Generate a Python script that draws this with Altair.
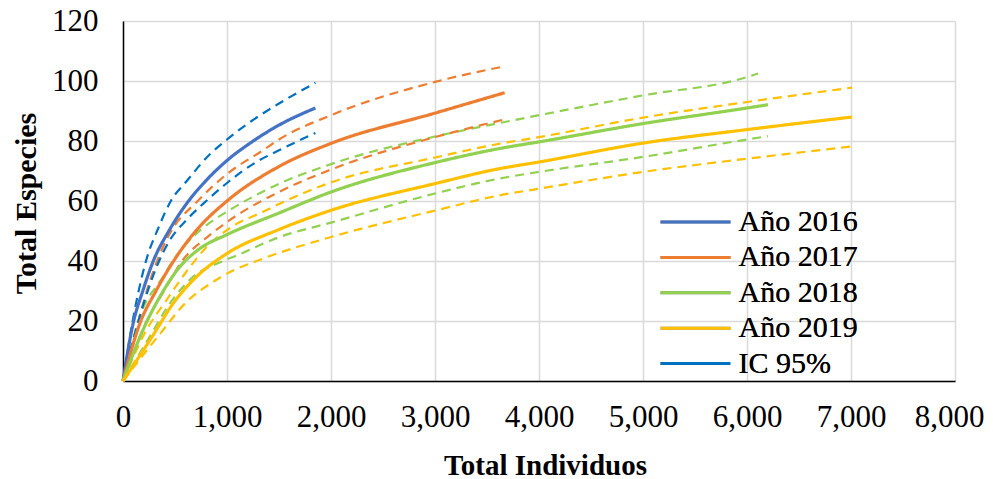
import altair as alt
import pandas as pd

# ---- data ----
series_names = ["Año 2016", "Año 2017", "Año 2018", "Año 2019"]
legend_names = ["Año 2016", "Año 2017", "Año 2018", "Año 2019", "IC 95%"]

x_2016 = [0, 96, 192, 288, 449, 609, 801, 1000, 1231, 1500, 1850]
y_2016 = [0, 19, 30.2, 39.7, 50.5, 59, 66.9, 73.5, 79.5, 85.3, 91]
x_2016_up = [0, 93, 221, 340, 460, 609, 833, 1000, 1250, 1500, 1850]
y_2016_up = [0, 20, 40, 51, 60, 66.5, 75.5, 80.5, 87, 92.5, 99.4]
x_2016_lo = [0, 148, 335, 449, 609, 800, 1000, 1282, 1500, 1850]
y_2016_lo = [0, 20, 39, 46.9, 53.6, 60, 66, 73, 76.9, 82.7]

x_2017 = [0, 160, 320, 481, 705, 1000, 1500, 2000, 3000, 3670]
y_2017 = [0, 19, 30.2, 39.7, 50.2, 60, 71.5, 79.2, 89.3, 96.1]
x_2017_up = [0, 148, 256, 334, 449, 718, 1000, 1346, 1500, 2000, 3000, 3670]
y_2017_up = [0, 20, 33, 40.5, 49.1, 60, 69, 76.9, 80.5, 88.6, 99.7, 104.9]
x_2017_lo = [0, 221, 417, 558, 833, 1000, 1500, 2000, 3000, 3670]
y_2017_lo = [0, 19.5, 31.3, 39.5, 48.6, 53, 63, 70.5, 81.3, 87.2]

x_2018 = [0, 192, 353, 545, 737, 1000, 1500, 2000, 3000, 3622, 4000, 5000, 6000, 6202]
y_2018 = [0, 17, 28, 38, 44.1, 48.8, 56, 63, 72.8, 77.5, 79.7, 85.8, 91, 92.1]
x_2018_up = [0, 160, 385, 478, 609, 801, 1026, 1506, 2000, 3000, 3622, 4000, 5000, 6000, 6106]
y_2018_up = [0, 21.3, 34.7, 40, 45.8, 51.9, 57, 65.8, 72.3, 81.5, 86, 88.6, 95.2, 101.3, 102.5]
x_2018_lo = [0, 256, 449, 673, 929, 1090, 1506, 2000, 3000, 3622, 4000, 5000, 6000, 6202]
y_2018_lo = [0, 14.7, 25.8, 34.7, 39.5, 41.8, 48, 52.8, 62.5, 67.5, 69.7, 74.7, 80.5, 81.6]

x_2019 = [0, 288, 481, 705, 1000, 1500, 2000, 3000, 3622, 4000, 5000, 6000, 7010]
y_2019 = [0, 15.2, 25.8, 34.7, 42.5, 50.5, 56.9, 65.8, 70.8, 73, 79.3, 83.8, 88]
x_2019_up = [0, 224, 417, 600, 800, 1042, 1346, 1506, 2000, 3000, 3622, 4000, 5000, 6000, 7010]
y_2019_up = [0, 16.9, 26.9, 36, 44.5, 51.3, 56.4, 59.1, 66.2, 74.5, 79.1, 81.3, 87.8, 93, 97.8]
x_2019_lo = [0, 369, 609, 865, 1000, 1346, 2000, 3000, 3622, 4000, 5000, 6000, 7010]
y_2019_lo = [0, 16.3, 26.3, 33, 35.8, 40.8, 48, 56.8, 61.9, 64.1, 69.7, 74.1, 78.2]

x_ticks = [0, 1000, 2000, 3000, 4000, 5000, 6000, 7000, 8000]
y_ticks = [0, 20, 40, 60, 80, 100, 120]

solid_colors = ["#4472C4", "#ED7D31", "#92D050", "#FFC000", "#0070C0"]
ci_colors = ["#0070C0", "#ED7D31", "#92D050", "#FFC000"]

solid = [(x_2016, y_2016), (x_2017, y_2017), (x_2018, y_2018), (x_2019, y_2019)]
upper = [(x_2016_up, y_2016_up), (x_2017_up, y_2017_up), (x_2018_up, y_2018_up), (x_2019_up, y_2019_up)]
lower = [(x_2016_lo, y_2016_lo), (x_2017_lo, y_2017_lo), (x_2018_lo, y_2018_lo), (x_2019_lo, y_2019_lo)]

rows_s = []
for name, (xs, ys) in zip(series_names, solid):
    for i, (a, b) in enumerate(zip(xs, ys)):
        rows_s.append({"x": a, "y": b, "serie": name, "o": i})
df_s = pd.DataFrame(rows_s)

rows_c = []
for name, (xs, ys) in zip(series_names, upper):
    for i, (a, b) in enumerate(zip(xs, ys)):
        rows_c.append({"x": a, "y": b, "anio": name, "ci": name + " sup", "o": i})
for name, (xs, ys) in zip(series_names, lower):
    for i, (a, b) in enumerate(zip(xs, ys)):
        rows_c.append({"x": a, "y": b, "anio": name, "ci": name + " inf", "o": i})
df_c = pd.DataFrame(rows_c)

FONT = "Liberation Serif"

x_enc = alt.X("x:Q",
              scale=alt.Scale(domain=[0, 8000], nice=False),
              axis=alt.Axis(values=x_ticks, format=",.0f", title="Total Individuos",
                            labelFlush=False, labelOverlap=False, ticks=False,
                            labelOffset={"condition": {"test": "datum.value === 8000", "value": -6},
                                         "value": 0},
                            labelPadding=21, labelFontSize=31, labelFont=FONT,
                            labelColor="#000000",
                            titleFont=FONT, titleFontSize=29, titleFontWeight="bold",
                            titleColor="#000000", titleX=422, titleY=93,
                            titleAlign="center", titleBaseline="alphabetic",
                            domainColor="#000000", domainWidth=1.5,
                            gridColor="#d9d9d9", gridWidth=1.5))
y_enc = alt.Y("y:Q",
              scale=alt.Scale(domain=[0, 120], nice=False),
              axis=alt.Axis(values=y_ticks, title="Total Especies", ticks=False,
                            labelPadding=25, labelFontSize=31, labelFont=FONT,
                            labelColor="#000000",
                            titleFont=FONT, titleFontSize=30, titleFontWeight="bold",
                            titleColor="#000000", titleAngle=270, titleX=-88, titleY=182,
                            titleAlign="center", titleBaseline="alphabetic",
                            domainColor="#000000", domainWidth=1.5,
                            gridColor="#d9d9d9", gridWidth=1.5))

ci_layer = alt.Chart(df_c).mark_line(interpolate="monotone", strokeWidth=2.2,
                                       strokeDash=[9, 6]).encode(
    x=x_enc, y=y_enc,
    color=alt.Color("anio:N", scale=alt.Scale(domain=series_names, range=ci_colors), legend=None),
    detail="ci:N",
    order="o:Q",
)

legend_opts = dict(title=None, orient="none", legendX=536, legendY=186,
                   symbolType="stroke", symbolSize=4900,
                   symbolStrokeWidth=3, clipHeight=30,
                   labelFont=FONT, labelFontSize=30, labelColor="#000000",
                   labelOffset=6.5, rowPadding=5.4, padding=0,
                   labelLimit=300)

solid_layer = alt.Chart(df_s).mark_line(interpolate="monotone", strokeWidth=3.2).encode(
    x=x_enc, y=y_enc,
    color=alt.Color("serie:N", scale=alt.Scale(domain=legend_names, range=solid_colors),
                    legend=alt.Legend(**legend_opts)),
    strokeDash=alt.StrokeDash("serie:N",
                              scale=alt.Scale(domain=legend_names,
                                              range=[[1, 0], [1, 0], [1, 0], [1, 0], [8, 6]]),
                              legend=alt.Legend(**legend_opts)),
    order="o:Q",
)

chart = alt.layer(ci_layer, solid_layer).resolve_scale(color="independent").properties(
    width=832, height=360,
    autosize=alt.AutoSizeParams(type="none"),
    padding={"left": 115, "top": 13, "right": 30, "bottom": 98},
).configure_view(stroke=None)

chart.save("out.html", embed_options={"renderer": "svg", "actions": False})
